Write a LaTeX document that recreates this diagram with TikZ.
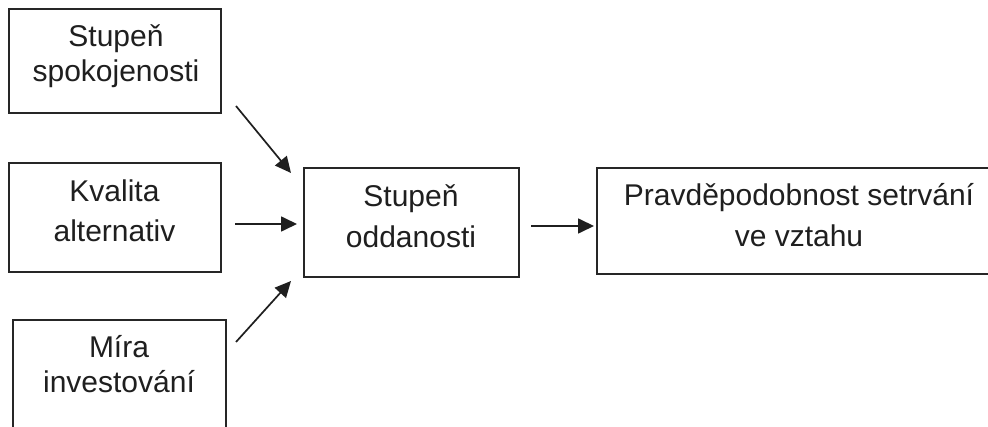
\documentclass[tikz,border=0pt]{standalone}
\usepackage{fontspec}
\setmainfont{Liberation Sans}
\usetikzlibrary{arrows.meta}
\begin{document}
\begin{tikzpicture}[x=1pt,y=-1pt,
  box/.style={draw=black!85, line width=1.6pt, inner sep=0pt},
  txt/.style={inner sep=0pt, align=center, text=black!88},
  tA/.style={txt, font=\fontsize{30}{35}\selectfont},
  tB/.style={txt, font=\fontsize{30}{40.5}\selectfont},
  arr/.style={line width=1.7pt, draw=black!88, -{Triangle[length=16pt,width=15pt]}}]
\useasboundingbox (0,0) rectangle (988,427);
\fill[white] (0,0) rectangle (988,427);
\begin{scope}
\clip (0,0) rectangle (988,427);
\node[box, minimum width=212pt, minimum height=104pt] (b1) at (115,61) {};
\node[box, minimum width=212pt, minimum height=109pt] (b2) at (115,217.5) {};
\node[box, minimum width=213pt, minimum height=112pt] (b3) at (119.5,376) {};
\node[box, minimum width=215pt, minimum height=109pt] (b4) at (411.5,222.5) {};
\node[box, minimum width=400pt, minimum height=106pt] (b5) at (797,221) {};

\node[tA] (t1) at (116,56.5) {Stupeň\\spokojenosti};
\node[tB] (t2) at (114.5,211) {Kvalita\\alternativ};
\node[tA] (t3) at (119,364.5) {Míra\\investování};
\node[tB] (t4) at (411,216) {Stupeň\\oddanosti};
\node[tB] (t5) at (799,215) {Pravděpodobnost setrvání\\ve vztahu};
\end{scope}

\coordinate (s1) at (236,106);
\coordinate (e1) at (291,173);
\coordinate (s2) at (235,224);
\coordinate (e2) at (297,224);
\coordinate (s3) at (236,342);
\coordinate (e3) at (291,281);
\coordinate (s4) at (531,226);
\coordinate (e4) at (594,226);
\draw[arr] (s1) -- (e1);
\draw[arr] (s2) -- (e2);
\draw[arr] (s3) -- (e3);
\draw[arr] (s4) -- (e4);
\end{tikzpicture}
\end{document}
